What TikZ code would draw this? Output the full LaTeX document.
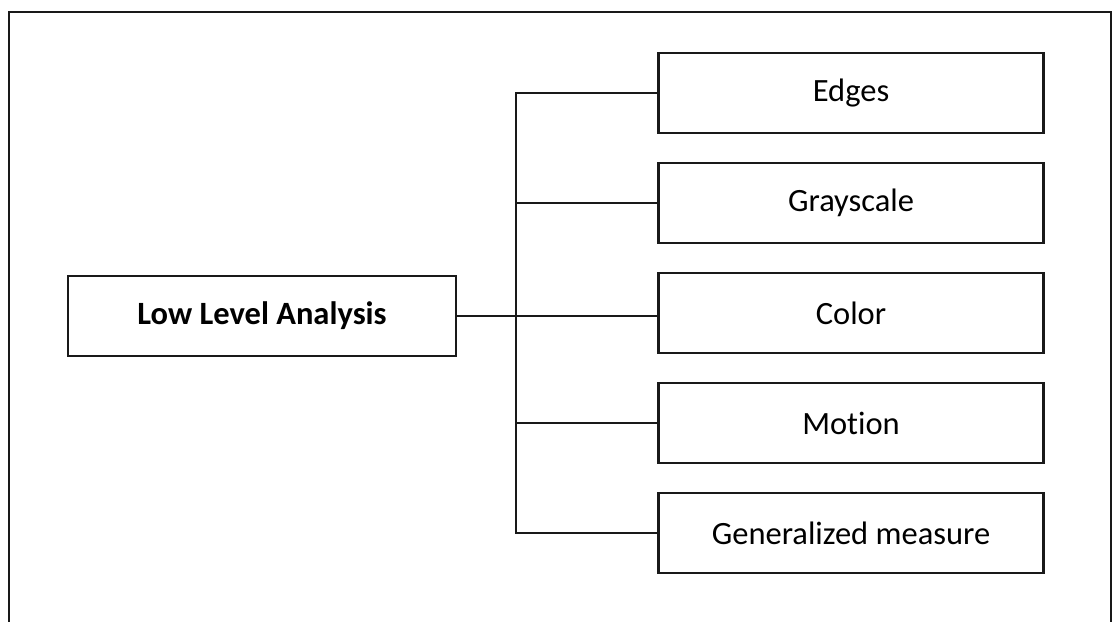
\documentclass[tikz,border=0pt]{standalone}
\usepackage{fontspec}
\setmainfont[Ligatures=NoCommon]{Carlito}
\begin{document}
\begin{tikzpicture}[x=1pt,y=-1pt,
  line join=miter,
  box/.style={draw=black!90, line width=2.5pt, minimum width=385pt, minimum height=80pt,
    inner sep=0pt, font=\fontsize{32.5}{38}\selectfont},
  link/.style={draw=black!90, line width=2.3pt}]
  \useasboundingbox (0,0) rectangle (1113,621);
  % outer frame, open at the bottom
  \draw[line width=2.6pt, black!90] (9,625) -- (9,12) -- (1111,12) -- (1111,625);

  \node[box, minimum width=388pt, minimum height=80pt, font=\fontsize{32.5}{38}\selectfont\bfseries]
    (low) at (262,316) {Low Level Analysis};

  \node[box] (edges) at (851,93)  {Edges};
  \node[box] (gray)  at (851,203) {Grayscale};
  \node[box] (color) at (851,313) {Color};
  \node[box] (motion) at (851,423) {Motion};
  \node[box] (gen)   at (851,533) {Generalized measure};

  \coordinate (bus) at (516,0);
  \draw[link] (edges.west) -| (bus |- gen.west) -- (gen.west);
  \draw[link] (gray.west) -- (bus |- gray.west);
  \draw[link] (motion.west) -- (bus |- motion.west);
  \draw[link] (low.east) -- (low.east -| color.west);
\end{tikzpicture}
\end{document}
